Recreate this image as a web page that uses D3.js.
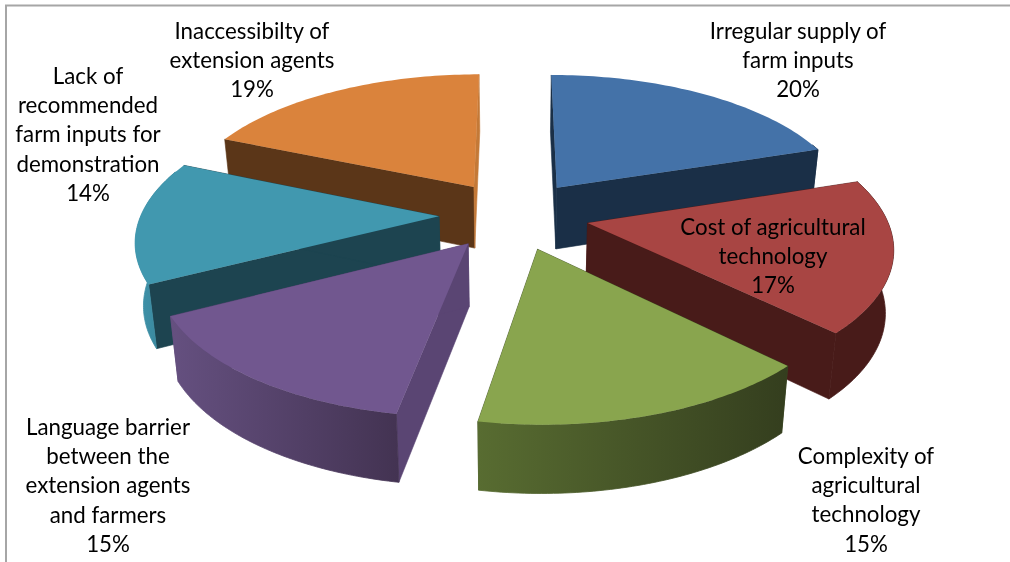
<!DOCTYPE html>
<html>
<head>
<meta charset="utf-8">
<script src="https://cdn.jsdelivr.net/npm/d3@7/dist/d3.min.js"></script>
<style>
html,body{margin:0;padding:0;background:#fff;overflow:hidden}
svg{display:block;filter:blur(0.45px)}
text{font-family:Lato,"Open Sans",sans-serif;font-size:22.3px;fill:#000}
</style>
</head>
<body>
<svg id="c" width="1010" height="562"></svg>
<script>
// Data
const categories = [
  ["Irregular supply of","farm inputs"],
  ["Cost of agricultural","technology"],
  ["Complexity of","agricultural","technology"],
  ["Language barrier","between the","extension agents","and farmers"],
  ["Lack of","recommended","farm inputs for","demonstration"],
  ["Inaccessibilty of","extension agents"]
];
const values = [20, 17.4, 15.4, 14.6, 14.0, 18.6];

// Style & layout
const topColors  = ["#4472a8","#a84543","#89a54e","#71578f","#4198af","#da833c"];
const startCut   = ["#1a2f47","#481b19","#3e4d24","#5a4573","#1d4450","#5b3618"];
const endCut     = ["#1a2f47","#481b19","#3e4d24","#5a4573","#1d4450","#c47937"];
const wallStops  = [
  ["#1a2f47","#1a2f47"],["#481b19","#481b19"],["#586c31","#343e1e"],
  ["#655080","#433352"],["#3f93aa","#357f94"],["#5b3618","#5b3618"]
];
const labelX = [798, 773, 866, 108, 88, 252];
const labelY = [30, 226, 455, 426, 75, 30];
const lineGap = 29.2;

const cx = 514, cy = 215, rx = 298, ry = 137.5, k = 0.151, depth = 62, explode = 0.2515, squeeze = 0.978;
const wallFacing = 0.35; // the outer wall is drawn only where it faces the viewer

function project(X, Y, low) {
  const s = 1 / (1 - k * Y);
  const m = low ? squeeze : 1;
  return [cx + X * rx * s * m, cy + Y * ry * s + (low ? depth * Math.sqrt(s) : 0)];
}

const svg = d3.select("#c");
const defs = svg.append("defs");
const line = d3.line().curve(d3.curveLinear);
const pie = d3.pie().sort(null).value(d => d);
const arcs = pie(values);

// frame
svg.append("path").attr("d", "M6 562V5.5H1010").attr("fill", "none").attr("stroke", "#a6a6a6").attr("stroke-width", 2);

const slices = arcs.map((a, i) => {
  const mid = (a.startAngle + a.endAngle) / 2;
  return {a, i, mid, ox: explode * Math.sin(mid), oy: -explode * Math.cos(mid)};
}).sort((p, q) => Math.cos(q.mid) - Math.cos(p.mid));

slices.forEach(({a, i, ox, oy}) => {
  const g = svg.append("g");
  const n = 60;
  const angs = d3.range(n + 1).map(t => a.startAngle + (a.endAngle - a.startAngle) * t / n);
  const rimOf = (list, low) => list.map(t => project(ox + Math.sin(t), oy - Math.cos(t), low));
  const apex = low => project(ox, oy, low);
  const topRim = rimOf(angs, false), lowRim = rimOf(angs, true);

  // cut faces
  [[0, startCut[i]], [n, endCut[i]]].forEach(([e, col]) => {
    g.append("path").attr("d", line([apex(false), topRim[e], lowRim[e], apex(true)]) + "Z")
      .attr("fill", col).attr("stroke", col).attr("stroke-width", 0.6);
  });

  // outer wall
  const facing = angs.filter(t => Math.cos(t) < wallFacing);
  if (facing.length > 1) {
    const gid = "wall" + i;
    const grad = defs.append("linearGradient").attr("id", gid).attr("x1", 0).attr("x2", 1).attr("y1", 0).attr("y2", 0);
    grad.append("stop").attr("offset", 0).attr("stop-color", wallStops[i][0]);
    grad.append("stop").attr("offset", 1).attr("stop-color", wallStops[i][1]);
    g.append("path").attr("d", line(rimOf(facing, false).concat(rimOf(facing, true).reverse())) + "Z")
      .attr("fill", `url(#${gid})`).attr("stroke", `url(#${gid})`).attr("stroke-width", 0.8);
  }

  // top face
  g.append("path").attr("d", line([apex(false)].concat(topRim)) + "Z").attr("fill", topColors[i]);
});

// labels
const pct = d3.format(".0f");
categories.forEach((lines, i) => {
  const t = svg.append("text").attr("text-anchor", "middle").attr("dominant-baseline", "central");
  lines.concat(pct(values[i]) + "%").forEach((s, j) => {
    t.append("tspan").attr("x", labelX[i]).attr("y", labelY[i] + j * lineGap).text(s);
  });
});
</script>
</body>
</html>
